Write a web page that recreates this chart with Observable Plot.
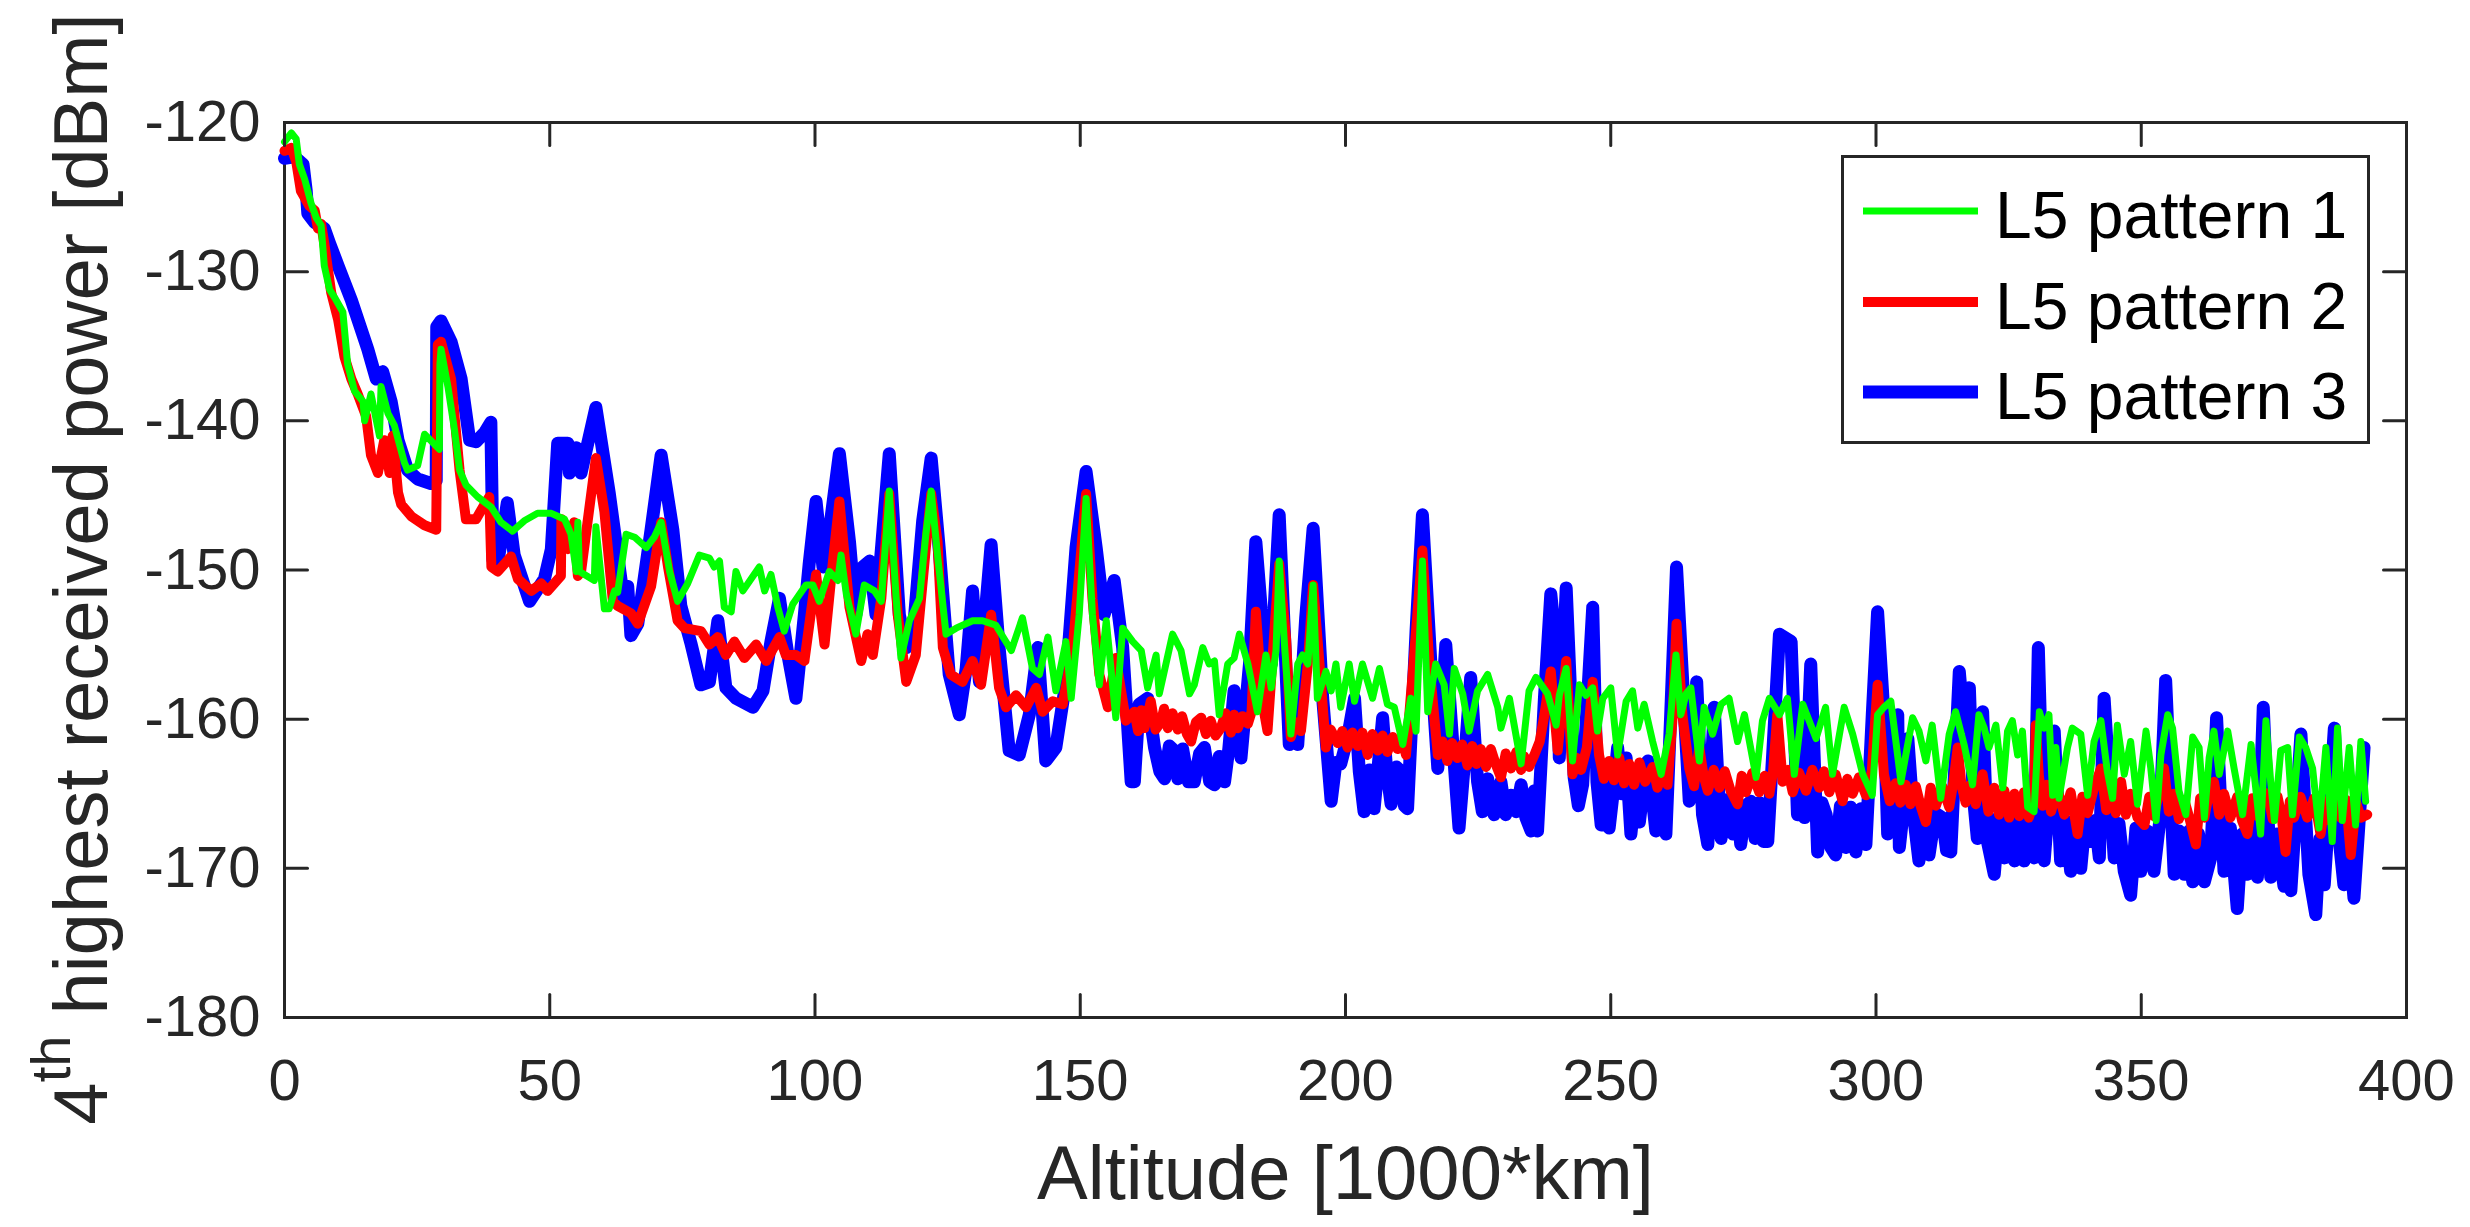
<!DOCTYPE html>
<html>
<head>
<meta charset="utf-8">
<script src="https://cdn.jsdelivr.net/npm/d3@7"></script>
<script src="https://cdn.jsdelivr.net/npm/@observablehq/plot@0.6"></script>
<style>
html, body { margin: 0; padding: 0; background: #ffffff; }
#wrap { position: relative; width: 2470px; height: 1227px; }
#legend { position: absolute; left: 1841px; top: 155px; }
</style>
</head>
<body>
<div id="wrap"></div>
<script>
// ---- tick labels / categories ----
const xTicks = [0, 50, 100, 150, 200, 250, 300, 350, 400];
const yTicks = [-120, -130, -140, -150, -160, -170, -180];
const seriesNames = ["L5 pattern 1", "L5 pattern 2", "L5 pattern 3"];
const seriesColors = ["#00ff00", "#ff0000", "#0000ff"];
const seriesWidths = [7, 10, 13];
const xLabel = "Altitude [1000*km]";
const yLabelMain = "highest received power [dBm]";

// ---- series: [altitude (1000 km), received power (dBm)] ----
const pattern1 = [[0,-121.3],[1.3,-120.7],[2.2,-121.1],[2.8,-122.8],[3.8,-123.8],[5.0,-125.4],[6.0,-126.4],[6.9,-126.9],[7.5,-129.6],[8.5,-131.2],[9.4,-131.7],[11.0,-132.7],[11.9,-136.2],[13.2,-138.0],[14.8,-138.7],[15.1,-140.0],[16.3,-138.2],[17.9,-141.0],[18.2,-137.7],[19.5,-139.5],[20.7,-140.3],[22.6,-142.8],[23.2,-143.3],[25.1,-143.0],[26.4,-140.9],[29.2,-141.9],[29.3,-136.2],[29.5,-135.2],[30.8,-137.7],[32.0,-140.5],[33.0,-143.3],[34.2,-144.3],[36.4,-145.1],[39.0,-145.8],[40.8,-146.8],[43.0,-147.4],[45.2,-146.7],[47.7,-146.2],[50.3,-146.2],[52.8,-146.6],[54.0,-147.6],[55.0,-150.1],[55.3,-146.8],[55.6,-150.1],[58.4,-150.7],[58.7,-147.1],[60.3,-152.6],[61.2,-152.6],[62.2,-151.4],[62.8,-151.5],[64.4,-147.6],[66.0,-147.8],[68.2,-148.5],[69.7,-147.8],[71.0,-146.8],[72.6,-150.1],[74.1,-152.1],[76.0,-150.9],[78.2,-149.0],[80.1,-149.2],
[81.0,-149.8],[82.0,-149.4],[82.9,-152.5],[84.2,-152.8],[85.1,-150.1],[86.4,-151.4],[89.5,-149.8],[90.5,-151.4],[91.7,-150.3],[93.0,-152.5],[94.2,-154.1],[95.8,-152.3],[98.3,-151.0],[99.6,-151.0],[100.8,-152.1],[102.7,-150.1],[104.3,-150.7],[104.9,-149.0],[105.9,-151.6],[107.7,-154.3],[109.3,-151.0],[111.2,-151.4],[112.5,-152.1],[114.0,-144.7],[115.3,-151.9],[116.2,-155.9],[117.8,-153.4],[119.7,-151.9],[120.9,-147.6],[121.9,-144.7],[123.1,-149.0],[124.7,-154.3],[126.6,-153.9],[129.7,-153.4],[131.6,-153.4],[134.1,-153.7],[137.0,-155.4],[139.1,-153.2],[141.0,-156.6],[142.3,-157.0],[143.9,-154.5],[145.4,-158.1],[147.3,-154.8],[148.3,-158.6],[149.8,-153.0],[151.1,-145.2],[152.3,-153.0],[153.6,-157.7],[154.9,-153.4],[156.7,-159.9],[158.0,-153.9],[159.9,-154.8],
[161.5,-155.4],[162.7,-157.9],[164.3,-155.7],[164.9,-158.3],[167.4,-154.3],[169.0,-155.4],[170.6,-158.3],[171.5,-157.7],[173.1,-155.2],[174.3,-156.3],[175.3,-156.1],[176.2,-159.7],[177.8,-156.3],[179.0,-155.9],[180.0,-154.3],[181.6,-156.3],[183.4,-159.5],[185.0,-155.7],[186.0,-157.9],[186.9,-155.4],[187.5,-149.4],[188.5,-155.0],[189.7,-161.0],[191.0,-156.3],[191.9,-155.7],[192.9,-156.3],[193.9,-151.0],[194.7,-158.6],[196.3,-156.8],[197.3,-158.1],[198.2,-156.3],[199.1,-159.2],[200.7,-156.3],[201.7,-158.8],[203.2,-156.3],[205.1,-158.6],[206.4,-156.6],[207.9,-159.0],[209.2,-159.2],[210.8,-161.7],[212.3,-158.6],[213.3,-160.8],[214.5,-149.4],[215.5,-159.5],[217.0,-156.3],[218.6,-157.7],[219.6,-161.0],[220.5,-156.6],[222.1,-158.3],[223.3,-160.8],[224.9,-158.1],[226.8,-157.0],[228.7,-159.2],[229.3,-160.6],[230.9,-158.6],[233.1,-163.0],[234.6,-158.1],[235.9,-157.2],[238.1,-158.3],[239.7,-160.4],
[240.3,-158.4],[241.6,-156.6],[242.8,-162.8],[244.1,-157.7],[245.3,-158.4],[246.6,-157.9],[247.5,-160.8],[248.5,-158.6],[250.0,-157.9],[251.3,-162.4],[252.9,-158.8],[254.1,-158.1],[255.1,-160.6],[256.3,-159.0],[257.9,-161.5],[259.5,-163.7],[261.0,-161.0],[262.3,-155.7],[263.2,-159.7],[264.2,-158.3],[265.1,-157.9],[266.1,-161.0],[266.7,-162.8],[267.6,-159.2],[269.2,-161.0],[270.8,-159.0],[272.3,-158.6],[273.9,-161.5],[275.2,-159.7],[277.4,-163.9],[278.6,-160.1],[279.9,-158.6],[281.8,-159.7],[283.3,-158.6],[284.6,-163.7],[286.2,-159.0],[287.4,-160.1],[288.7,-161.3],[290.5,-159.2],[291.8,-163.7],[294.0,-159.2],[295.6,-161.0],[297.5,-163.7],[299.3,-165.1],[300.3,-159.7],[301.5,-159.2],[302.8,-158.8],[304.7,-164.2],[306.9,-159.9],[308.1,-160.8],[309.4,-162.8],[310.6,-160.4],[312.2,-165.3],[313.8,-161.0],[315.0,-159.5],[316.6,-161.7],[318.2,-164.4],[319.4,-159.7],
[320.4,-160.6],[321.3,-161.9],[322.6,-160.4],[323.9,-164.6],[324.8,-160.8],[325.7,-160.1],[326.7,-162.4],[327.6,-160.8],[328.6,-165.9],[329.8,-166.2],[330.8,-159.5],[331.7,-160.6],[332.6,-159.7],[333.3,-165.1],[333.9,-161.9],[334.5,-165.3],[336.1,-161.9],[337.0,-160.6],[338.6,-161.0],[339.9,-165.1],[341.1,-161.5],[342.4,-160.1],[343.6,-163.5],[344.6,-165.3],[345.5,-160.4],[346.8,-163.7],[348.0,-161.5],[349.3,-165.7],[350.9,-160.8],[351.8,-163.3],[352.8,-166.8],[353.7,-162.4],[355.0,-159.7],[355.9,-160.6],[357.1,-164.8],[358.4,-166.4],[359.7,-161.2],[360.9,-161.9],[361.9,-166.6],[362.8,-162.6],[363.7,-160.8],[364.7,-163.7],[366.3,-160.8],[367.5,-163.3],[369.1,-166.4],[370.7,-161.7],[371.9,-165.7],[372.5,-167.7],[373.5,-160.1],[374.4,-164.2],[375.1,-166.8],[376.3,-162.1],[377.6,-161.9],[378.5,-166.4],[379.8,-161.2],[381.0,-161.9],[382.3,-163.3],[383.5,-167.3],[384.8,-161.9],[386.0,-168.2],[387.0,-160.6],[387.9,-166.8],[389.2,-161.9],[390.4,-167.1],[391.4,-161.5],[392.3,-165.5]];

const pattern2 = [[0,-121.9],[1.3,-121.7],[2.2,-122.6],[3.1,-124.6],[4.7,-125.6],[5.7,-125.9],[6.3,-127.1],[6.9,-126.8],[7.5,-128.1],[8.8,-131.4],[10.1,-133.2],[11.3,-135.7],[12.6,-137.2],[13.8,-138.2],[15.4,-139.7],[16.3,-142.3],[17.6,-143.5],[18.8,-141.3],[19.8,-143.5],[20.4,-141.0],[21.4,-144.8],[22.0,-145.6],[23.9,-146.4],[26.4,-147.0],[28.6,-147.3],[28.9,-134.9],[29.5,-134.7],[31.4,-137.2],[33.0,-143.3],[34.2,-146.6],[36.1,-146.6],[37.7,-145.6],[38.6,-145.1],[39.0,-149.8],[40.2,-150.1],[42.7,-149.1],[44.0,-150.6],[46.5,-151.4],[48.4,-150.9],[49.6,-151.4],[52.1,-150.4],[52.2,-146.6],[53.4,-148.6],[54.6,-146.8],[55.3,-150.4],[55.9,-150.1],[58.7,-142.5],[60.3,-146.1],[61.9,-152.1],[62.8,-152.4],[65.3,-152.9],[66.6,-153.6],[69.1,-151.1],[71.0,-146.8],[72.3,-149.8],[74.1,-153.4],[75.4,-153.9],[78.5,-154.1],[80.1,-155.0],
[81.7,-154.5],[83.2,-155.7],[84.8,-154.8],[86.7,-155.9],[88.9,-155.0],[90.8,-156.1],[93.3,-154.5],[94.5,-155.7],[96.4,-155.7],[98.0,-156.1],[100.2,-150.3],[101.8,-155.0],[103.0,-150.7],[104.6,-145.4],[106.5,-152.5],[108.7,-156.1],[109.9,-154.3],[110.9,-155.7],[112.5,-151.9],[114.0,-144.9],[115.6,-153.0],[117.2,-157.5],[119.0,-155.7],[120.9,-148.5],[121.9,-144.9],[123.1,-148.1],[124.1,-155.2],[125.6,-157.0],[127.8,-157.5],[129.7,-156.1],[131.3,-157.7],[133.2,-153.0],[134.7,-157.9],[136.0,-159.2],[137.9,-158.4],[139.8,-159.2],[141.7,-157.9],[142.9,-159.5],[144.8,-158.8],[146.7,-159.0],[148.6,-155.2],[151.1,-144.9],[152.3,-151.9],[153.6,-157.0],[155.2,-159.2],[156.7,-155.9],[158.6,-160.1],
[160.2,-159.5],[160.9,-160.8],[161.5,-159.4],[162.1,-160.6],[163.3,-158.8],[164.2,-160.7],[165.2,-160.2],[165.8,-159.3],[166.5,-160.6],[167.4,-159.6],[168.4,-160.7],[169.2,-159.8],[170.1,-161.0],[170.9,-161.5],[171.8,-160.2],[172.8,-159.9],[173.7,-161.0],[174.6,-160.1],[175.5,-161.1],[176.5,-160.6],[177.4,-159.6],[178.4,-160.9],[179.0,-159.7],[179.7,-160.6],[180.6,-159.8],[181.6,-160.3],[182.3,-159.5],[183.1,-152.8],[184.4,-159.0],[185.3,-160.8],[186.6,-154.1],[187.5,-149.6],[188.8,-154.6],[189.7,-161.2],[190.6,-160.2],[191.6,-160.8],[192.9,-156.3],[193.9,-151.0],[195.1,-156.3],[196.3,-161.9],[197.2,-160.7],[198.5,-161.6],[199.4,-160.8],[200.4,-161.9],[201.3,-160.9],[202.3,-161.8],[203.2,-160.9],[204.2,-162.4],[205.1,-161.0],[206.1,-162.1],[207.0,-161.1],[207.9,-162.2],[208.9,-161.2],[209.8,-162.0],[210.6,-161.2],[211.4,-162.4],[212.6,-157.2],[214.5,-148.7],[215.8,-156.3],[217.4,-162.4],[218.3,-161.5],[219.2,-162.8],[220.1,-161.6],[221.1,-162.6],[222.0,-161.7],[223.0,-163.1],[223.9,-161.8],[224.7,-163.0],[225.5,-162.0],[226.5,-163.2],[227.4,-162.0],[228.3,-163.0],[229.3,-163.9],[230.2,-162.3],[231.2,-163.3],[232.2,-162.2],[233.1,-163.4],[233.7,-162.5],[234.6,-163.2],[235.6,-162.4],[236.6,-161.5],[237.5,-159.7],[238.7,-156.8],[240.0,-162.1],
[241.6,-156.1],[242.8,-163.7],[243.6,-162.6],[244.4,-163.4],[245.5,-161.9],[246.6,-157.5],[247.8,-162.4],[248.7,-164.0],[249.7,-162.8],[250.6,-164.1],[251.6,-162.6],[252.5,-164.3],[253.5,-163.0],[254.4,-164.4],[255.4,-162.9],[256.5,-164.2],[257.9,-163.2],[258.8,-164.6],[259.8,-163.5],[260.7,-164.4],[261.7,-159.7],[262.4,-153.6],[263.5,-159.7],[264.8,-163.3],[265.7,-164.5],[266.7,-161.9],[267.5,-163.8],[268.3,-164.8],[269.4,-163.4],[270.5,-164.6],[271.5,-163.5],[272.6,-164.8],[273.9,-165.7],[274.7,-163.8],[275.5,-164.9],[276.7,-163.6],[278.0,-164.9],[279.0,-163.8],[279.9,-165.0],[280.6,-163.5],[281.4,-159.7],[282.4,-164.2],[283.4,-163.4],[284.3,-164.9],[285.5,-163.6],[286.8,-164.8],[288.0,-163.4],[289.3,-164.6],[290.2,-163.5],[291.2,-164.9],[292.4,-163.7],[293.7,-165.5],[294.6,-164.0],[295.6,-165.0],[296.8,-163.9],[298.1,-165.1],[299.2,-163.5],[300.3,-157.7],[301.5,-163.7],[302.6,-165.5],[303.7,-164.3],[304.6,-165.6],[305.6,-164.4],[306.5,-165.7],[307.5,-164.5],[308.4,-165.8],[309.4,-166.9],[310.3,-164.6],[311.3,-165.8],[312.5,-164.5],[313.8,-165.9],[314.6,-164.2],[315.4,-161.9],[316.1,-164.4],[316.9,-165.6],[317.8,-164.4],[318.8,-165.7],[319.5,-164.5],[320.1,-163.7],
[321.2,-166.2],[322.3,-164.6],[323.2,-166.4],[324.2,-164.8],[325.1,-166.6],[326.1,-165.0],[327.0,-166.5],[327.9,-164.9],[328.8,-166.6],[329.8,-165.5],[330.1,-160.4],[330.7,-163.8],[331.4,-165.8],[332.2,-164.4],[333.0,-166.2],[334.2,-164.7],[335.5,-166.4],[336.7,-164.9],[338.0,-167.7],[338.9,-165.2],[339.9,-166.3],[341.1,-164.6],[342.4,-163.3],[343.4,-166.1],[344.3,-164.6],[345.2,-166.3],[346.2,-164.2],[347.1,-166.4],[348.0,-165.0],[349.3,-166.6],[350.6,-167.1],[351.5,-165.2],[352.4,-166.5],[353.4,-164.8],[354.3,-163.3],[355.2,-166.2],[356.2,-165.0],[357.1,-166.7],[358.1,-165.4],[359.2,-166.8],[360.3,-168.4],[361.1,-165.3],[361.9,-166.6],[362.8,-164.9],[363.7,-164.2],[364.7,-166.4],[365.6,-165.0],[366.8,-166.6],[368.1,-165.2],[369.0,-166.8],[370.0,-167.7],[370.9,-165.3],[371.9,-166.5],[372.9,-164.9],[373.8,-165.0],[374.8,-166.7],[375.7,-165.2],[376.5,-166.6],[377.2,-168.9],[378.0,-165.5],[378.8,-166.6],[380.0,-165.2],[381.3,-166.6],[382.6,-165.3],[383.8,-167.7],[384.7,-165.5],[385.7,-166.8],[386.6,-165.3],[387.6,-166.6],[388.6,-165.4],[389.5,-169.1],[390.5,-165.6],[391.4,-166.6],[392.6,-166.4]];

const pattern3 = [[0,-122.4],[1.9,-122.3],[3.5,-122.8],[4.1,-124.6],[4.4,-126.1],[5.7,-126.7],[7.5,-127.1],[8.5,-128.1],[10.1,-129.6],[12.6,-131.9],[15.7,-135.2],[17.3,-137.2],[18.5,-136.7],[20.1,-138.7],[21.4,-141.3],[23.2,-143.3],[25.1,-143.9],[27.6,-144.2],[28.6,-144.0],[28.7,-133.7],[29.5,-133.3],[31.4,-134.7],[33.3,-137.2],[34.9,-141.3],[36.1,-141.4],[37.7,-140.8],[38.9,-140.1],[39.3,-149.3],[40.2,-149.5],[42.0,-145.5],[43.3,-149.0],[46.2,-152.1],[49.0,-150.6],[50.3,-148.6],[51.5,-141.5],[53.4,-141.5],[53.7,-143.5],[55.0,-141.8],[55.9,-143.5],[58.7,-139.1],[61.2,-144.8],[64.1,-152.4],[64.7,-151.1],[65.3,-154.4],[66.6,-153.6],[69.1,-147.3],[71.0,-142.3],[73.2,-147.3],[74.7,-152.4],[76.6,-154.9],[78.5,-157.7],[80.1,-157.5],
[81.7,-153.4],[83.2,-157.9],[85.1,-158.6],[88.3,-159.2],[90.2,-158.1],[91.7,-154.8],[93.3,-151.9],[94.9,-155.7],[96.4,-158.6],[98.0,-153.0],[98.9,-149.6],[100.2,-145.4],[101.5,-149.8],[102.7,-147.4],[104.6,-142.2],[106.5,-148.1],[107.7,-153.0],[109.0,-149.8],[110.3,-149.4],[111.5,-153.0],[114.0,-142.2],[115.9,-153.0],[117.2,-155.2],[118.7,-153.4],[120.3,-146.7],[121.9,-142.5],[123.4,-148.5],[125.3,-157.0],[127.2,-159.7],[128.5,-156.6],[129.7,-151.4],[131.0,-157.5],[133.2,-148.3],[134.7,-155.2],[136.6,-162.1],[138.5,-162.4],[140.4,-159.7],[142.0,-155.2],[143.5,-162.8],[145.4,-161.9],[147.3,-157.5],[149.2,-148.5],[151.1,-143.4],[153.0,-148.5],[154.5,-153.0],[156.4,-150.7],[158.0,-155.2],[159.6,-164.2],
[160.2,-164.2],[161.1,-159.0],[162.7,-158.6],[164.0,-161.9],[165.0,-163.5],[165.9,-164.0],[166.8,-161.8],[167.7,-162.1],[168.4,-164.0],[169.3,-162.0],[170.4,-164.2],[171.5,-164.2],[172.5,-162.3],[173.4,-161.9],[174.4,-164.2],[175.3,-164.4],[176.2,-162.5],[177.2,-164.2],[178.0,-162.0],[179.0,-158.1],[180.3,-162.6],[181.9,-156.3],[183.1,-148.1],[184.7,-155.2],[186.0,-156.3],[187.5,-146.3],[189.4,-161.7],[190.2,-160.4],[191.0,-161.7],[192.5,-153.2],[193.9,-147.2],[195.7,-158.6],[197.3,-165.5],[198.2,-162.9],[199.1,-163.0],[200.4,-161.2],[201.7,-158.6],[202.6,-163.5],[203.5,-166.2],[204.5,-163.4],[205.4,-166.0],[206.2,-163.0],[207.0,-159.9],[207.8,-163.6],[208.6,-165.7],[209.6,-163.2],[210.5,-163.5],[211.1,-165.8],[211.7,-166.0],[213.3,-154.1],[214.5,-146.3],[216.1,-156.3],[217.4,-163.3],[218.9,-155.0],[220.5,-163.0],[221.4,-167.3],[222.4,-163.0],[223.6,-157.2],[224.9,-164.2],[225.8,-166.2],[226.8,-164.0],[228.0,-166.4],[229.3,-164.2],[230.2,-166.4],[231.2,-165.1],[232.2,-166.2],[233.1,-164.4],[234.0,-166.6],[235.0,-167.5],[235.6,-164.8],[236.2,-167.5],[237.5,-158.6],[238.7,-151.6],[240.0,-156.3],
[240.3,-162.6],[241.6,-151.2],[243.1,-163.9],[243.9,-165.8],[244.7,-164.4],[246.6,-152.5],[247.4,-164.2],[248.2,-167.1],[249.0,-164.6],[249.7,-167.3],[250.5,-164.8],[251.3,-161.9],[252.1,-165.0],[252.9,-162.6],[253.8,-167.7],[254.6,-164.9],[255.4,-166.9],[256.2,-164.5],[257.0,-162.8],[257.8,-165.2],[258.5,-167.5],[259.4,-165.0],[260.4,-167.7],[261.3,-159.7],[262.4,-149.8],[263.9,-159.7],[264.8,-165.5],[266.2,-157.5],[267.3,-166.4],[268.3,-168.4],[269.5,-159.2],[270.8,-168.0],[271.9,-165.4],[273.0,-167.7],[273.8,-165.5],[274.5,-168.4],[275.5,-165.8],[276.4,-165.5],[277.2,-168.0],[278.0,-165.6],[278.8,-168.2],[279.6,-168.2],[281.8,-154.3],[284.0,-154.8],[285.2,-166.4],[285.9,-165.0],[286.5,-166.6],[287.7,-156.3],[289.0,-168.9],[289.8,-165.6],[290.6,-166.4],[291.5,-168.6],[292.4,-169.1],[293.3,-165.8],[294.3,-168.6],[295.2,-165.9],[296.2,-168.9],[297.2,-166.0],[298.1,-168.4],[299.3,-159.7],[300.3,-152.8],[301.5,-159.7],[302.2,-167.7],[303.2,-165.6],[304.1,-159.7],[304.4,-168.6],[305.2,-166.0],[306.0,-161.3],[307.0,-166.2],[308.1,-169.5],[309.0,-166.4],[310.0,-169.1],[311.2,-166.3],[312.5,-166.6],[313.3,-168.8],[314.1,-168.9],[315.7,-156.8],[316.6,-160.5],[317.6,-157.9],[318.3,-165.0],[319.1,-168.0],[320.1,-159.5],
[321.0,-168.2],[322.3,-170.4],[323.2,-166.5],[324.2,-169.3],[325.1,-166.8],[326.1,-169.5],[327.0,-166.4],[327.9,-169.5],[328.8,-166.8],[329.8,-169.3],[330.6,-155.2],[331.7,-169.5],[333.6,-160.8],[334.8,-169.5],[335.7,-166.8],[336.7,-170.2],[337.6,-167.0],[338.6,-170.0],[339.5,-166.6],[340.5,-168.2],[341.3,-166.8],[342.1,-169.3],[343.0,-158.6],[344.9,-169.3],[345.8,-167.0],[346.8,-170.2],[348.0,-171.8],[349.0,-167.3],[349.9,-170.2],[351.2,-167.5],[352.4,-170.2],[353.5,-166.8],[354.6,-157.4],[356.2,-170.4],[357.1,-167.5],[358.1,-170.4],[359.0,-167.5],[359.7,-170.9],[360.8,-167.7],[361.9,-170.9],[363.1,-169.3],[364.2,-159.9],[365.6,-170.2],[366.8,-167.3],[368.1,-172.7],[369.0,-167.7],[370.0,-170.4],[371.0,-167.5],[371.9,-170.6],[373.0,-159.2],[374.4,-170.6],[375.6,-167.7],[376.9,-171.2],[377.6,-168.0],[378.2,-171.5],[380.1,-161.0],[381.6,-170.4],[382.9,-173.1],[383.7,-168.0],[384.5,-171.1],[386.4,-160.6],[387.3,-168.0],[388.2,-171.1],[389.2,-168.2],[390.1,-172.0],[392.0,-161.9]];

const seriesData = [pattern1, pattern2, pattern3];

// ---- styling ----
const axisColor = "#262626";
const fontFamily = "'Liberation Sans', Arial, Helvetica, sans-serif";
const tickShape = { draw(ctx, l) { ctx.moveTo(0, 0); ctx.lineTo(0, -l); } };
const tickOpts = { length: 23, anchor: "start", shape: tickShape, stroke: axisColor, strokeWidth: 3 };

const lineMark = (i) => Plot.line(seriesData[i], {
  x: d => d[0], y: d => d[1],
  stroke: seriesColors[i], strokeWidth: seriesWidths[i],
  strokeLinejoin: "round", strokeLinecap: "round"
});

const chart = Plot.plot({
  width: 2470, height: 1227,
  marginLeft: 284, marginRight: 64, marginTop: 122, marginBottom: 210,
  x: { domain: [0, 400], axis: null },
  y: { domain: [-180, -120], axis: null },
  style: { fontFamily, background: "#ffffff", overflow: "visible" },
  marks: [
    Plot.frame({ stroke: axisColor, strokeWidth: 3 }),
    lineMark(2), lineMark(1), lineMark(0),
    Plot.vector(xTicks, { x: d => d, y: -180, rotate: 0, ...tickOpts }),
    Plot.vector(xTicks, { x: d => d, y: -120, rotate: 180, ...tickOpts }),
    Plot.vector(yTicks, { y: d => d, x: 0, rotate: 90, ...tickOpts }),
    Plot.vector(yTicks, { y: d => d, x: 400, rotate: -90, ...tickOpts }),
    Plot.text(xTicks, { x: d => d, frameAnchor: "bottom", dy: 41, lineAnchor: "top", text: d => String(d), fontSize: 58, fill: axisColor }),
    Plot.text(yTicks, { y: d => d, frameAnchor: "left", dx: -24, textAnchor: "end", text: d => String(d), fontSize: 58, fill: axisColor }),
    Plot.text([xLabel], { frameAnchor: "bottom", dy: 181, lineAnchor: "bottom", text: d => d, fontSize: 76, fill: axisColor })
  ]
});

// y-axis label with superscript
const svg = d3.select(chart);
const yl = svg.append("text")
  .attr("transform", "translate(107,569) rotate(-90)")
  .attr("text-anchor", "middle")
  .attr("font-family", fontFamily)
  .attr("font-size", 76)
  .attr("fill", axisColor);
yl.append("tspan").text("4");
yl.append("tspan").attr("font-size", 56).attr("dy", -37).text("th");
yl.append("tspan").attr("dy", 37).text(" " + yLabelMain);

document.getElementById("wrap").appendChild(chart);

// legend box (overlay, top-right inside axes)
const lg = d3.select("#wrap").append("svg")
  .attr("id", "legend")
  .attr("width", 529).attr("height", 289);
lg.append("rect").attr("x", 1.5).attr("y", 1.5).attr("width", 526).attr("height", 286)
  .attr("fill", "#ffffff").attr("stroke", axisColor).attr("stroke-width", 3);
const rowsY = [56, 147, 237];
seriesNames.forEach((name, i) => {
  lg.append("line").attr("x1", 22).attr("x2", 137).attr("y1", rowsY[i]).attr("y2", rowsY[i])
    .attr("stroke", seriesColors[i]).attr("stroke-width", seriesWidths[i]);
  lg.append("text").attr("x", 154).attr("y", rowsY[i] + 27)
    .attr("font-family", fontFamily).attr("font-size", 66).attr("fill", "#000000")
    .text(name);
});
</script>
</body>
</html>
